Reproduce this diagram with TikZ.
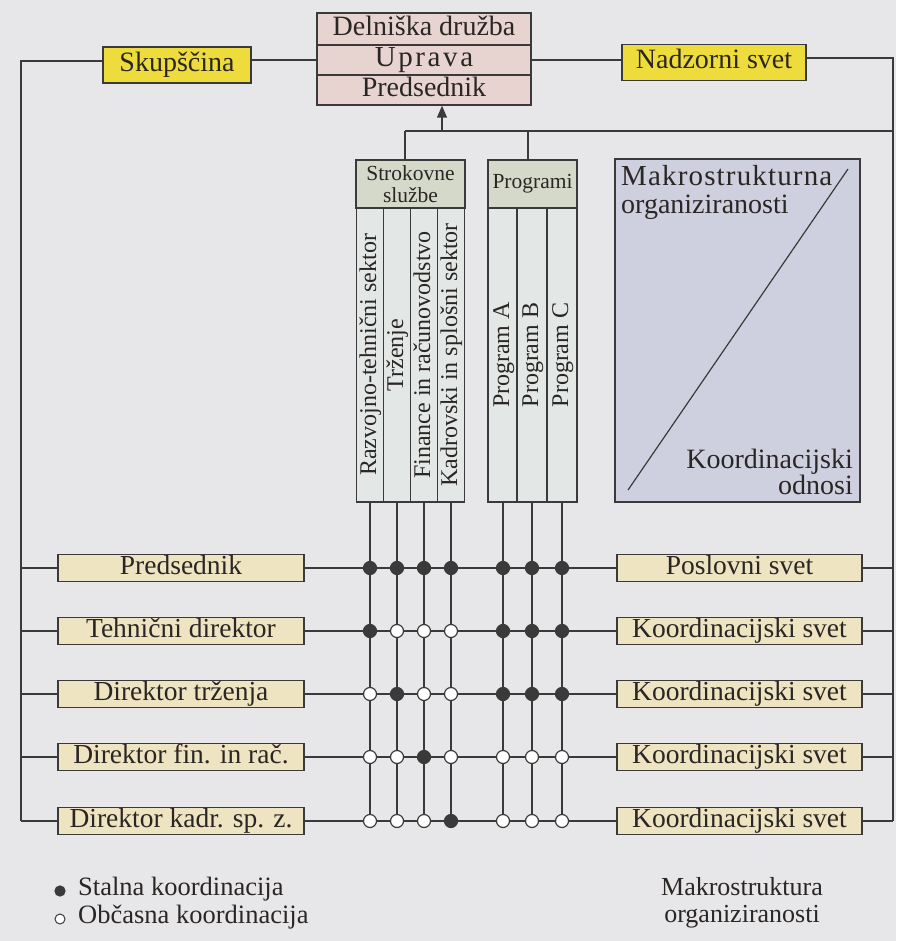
\documentclass[tikz,border=0pt]{standalone}
\usepackage{fontspec}
\setmainfont{Liberation Serif}
\usetikzlibrary{arrows.meta}

\definecolor{bg}{HTML}{E7E7E9}
\definecolor{ink}{HTML}{3A3A3A}
\definecolor{txt}{HTML}{2A2624}
\definecolor{pinkbox}{HTML}{E7D4D0}
\definecolor{yel}{HTML}{EEDC3C}
\definecolor{pale}{HTML}{EEE4C2}
\definecolor{hdr}{HTML}{D5D9CA}
\definecolor{colfill}{HTML}{E3E8E6}
\definecolor{macro}{HTML}{CFD0DF}

\tikzset{
  line/.style={draw=ink, line width=1.4pt},
  boxbase/.style={draw=ink, line width=1.4pt, inner sep=0pt, text=txt},
  topbox/.style={boxbase, fill=pinkbox, minimum width=214pt,
    font=\fontsize{28}{30}\selectfont, text height=19pt, text depth=6pt},
  ybox/.style={boxbase, fill=yel, minimum height=36pt,
    font=\fontsize{28}{30}\selectfont, text height=19pt, text depth=6pt},
  pbox/.style={boxbase, fill=pale, minimum height=27pt,
    font=\fontsize{27.5}{30}\selectfont, text height=19pt, text depth=6pt},
  lbox/.style={pbox, minimum width=246pt},
  rbox/.style={pbox, minimum width=245pt},
  hdrbox/.style={boxbase, fill=hdr, minimum height=48pt, align=center,
    font=\fontsize{21.5}{21}\selectfont},
  colbox/.style={boxbase, fill=colfill, rotate=90, minimum width=294pt,
    font=\fontsize{24}{26}\selectfont, text height=17pt, text depth=5pt},
  fdot/.style={circle, fill=ink, draw=ink, line width=1.2pt, minimum size=13pt, inner sep=0pt},
  odot/.style={circle, fill=white, draw=ink, line width=1.2pt, minimum size=13pt, inner sep=0pt},
  plain/.style={inner sep=0pt, text=txt},
}

\begin{document}
\begin{tikzpicture}[x=1pt, y=-1pt]
  % page and background
  \fill[bg] (0,0) rectangle (896,941);
  \useasboundingbox (0,0) rectangle (896,941);

  % company head: three stacked rows
  \node[topbox, minimum height=32pt] (top1) at (424,29) {Delniška družba};
  \node[topbox, minimum height=30pt] (top2) at (424,60) {\fontsize{29}{30}\selectfont\addfontfeature{LetterSpace=9}Uprava};
  \node[topbox, minimum height=30pt] (top3) at (424,90) {Predsednik};

  % assembly and supervisory board
  \node[ybox, minimum width=148pt] (skup) at (177,65) {Skupščina};
  \node[ybox, minimum width=184pt] (nadz) at (714,62.5) {Nadzorni svet};

  % frame lines
  \coordinate (lt) at (21,61);
  \coordinate (lb) at (21,821);
  \coordinate (rt) at (893,58);
  \coordinate (rb) at (893,821);
  \coordinate (busL) at (405,131);
  \coordinate (busA) at (442,131);
  \coordinate (busP) at (528,131);
  \coordinate (busR) at (893,131);

  \draw[line] (top2.west) -- (top2.west -| skup.east);
  \draw[line] (lt -| skup.west) -- (lt) -- (lb);
  \draw[line] (top2.east) -- (top2.east -| nadz.west);
  \draw[line] (rt -| nadz.east) -- (rt) -- (rb);
  \draw[line] (busL) -- (busR);
  \draw[line, -{Triangle[length=12pt, width=10pt]}] (busA) -- (busA |- top3.south);

  % professional services
  \node[hdrbox, minimum width=109pt] (strok) at (410.5,184) {Strokovne\\[1pt]službe};
  \node[colbox, minimum height=27.25pt] (c1) at (370,355) {Razvojno-tehnični sektor};
  \node[colbox, minimum height=27pt] (c2) at (397,355) {Trženje};
  \node[colbox, minimum height=27pt] (c3) at (424,355) {Finance in računovodstvo};
  \node[colbox, minimum height=27.5pt] (c4) at (451,355) {Kadrovski in splošni sektor};

  % programmes
  \node[hdrbox, minimum width=89pt] (prog) at (532.5,184) {Programi};
  \node[colbox, minimum height=29.67pt] (c5) at (503,355) {Program A};
  \node[colbox, minimum height=29.67pt] (c6) at (532,355) {Program B};
  \node[colbox, minimum height=29.67pt] (c7) at (562,355) {Program C};

  \draw[line] (busL) -- (busL |- strok.north);
  \draw[line] (busP) -- (busP |- prog.north);

  % macro-structure panel
  \node[boxbase, fill=macro, minimum width=245pt, minimum height=343pt] (macro) at (737.5,330.5) {};
  \coordinate (diagA) at (628,490);
  \coordinate (diagB) at (848,169);
  \draw[ink, line width=1.2pt] (diagA) -- (diagB);
  \node[plain, anchor=base west, font=\fontsize{29}{30}\selectfont] (mk1) at (621,186) {\addfontfeature{LetterSpace=4}Makrostrukturna};
  \node[plain, anchor=base west, font=\fontsize{28}{30}\selectfont] (mk2) at (621,214) {organiziranosti};
  \node[plain, anchor=base east, font=\fontsize{28}{30}\selectfont] (mk3) at (853,468) {Koordinacijski};
  \node[plain, anchor=base east, font=\fontsize{28}{30}\selectfont] (mk4) at (853,494) {odnosi};

  % managers (left) and councils (right)
  \node[lbox] (l1) at (181,568) {Predsednik};
  \node[lbox] (l2) at (181,631) {Tehnični direktor};
  \node[lbox] (l3) at (181,694) {Direktor trženja};
  \node[lbox] (l4) at (181,757) {Direktor fin. in rač.};
  \node[lbox] (l5) at (181,821) {Direktor kadr. sp. z.};

  \node[rbox] (r1) at (739.5,568) {Poslovni svet};
  \node[rbox] (r2) at (739.5,631) {Koordinacijski svet};
  \node[rbox] (r3) at (739.5,694) {Koordinacijski svet};
  \node[rbox] (r4) at (739.5,757) {Koordinacijski svet};
  \node[rbox] (r5) at (739.5,821) {Koordinacijski svet};

  \foreach \i in {1,...,5} {
    \draw[line] (lb |- l\i.west) -- (l\i.west);
    \draw[line] (l\i.east) -- (r\i.west);
    \draw[line] (r\i.east) -- (rb |- r\i.east);
  }

  % column drop lines
  \foreach \c in {1,...,7} {
    \draw[line] (c\c.west) -- (c\c.west |- l5.east);
  }

  % coordination matrix: 1 = permanent, 0 = occasional
  \foreach \row/\pat in {1/{1,1,1,1,1,1,1}, 2/{1,0,0,0,1,1,1}, 3/{0,1,0,0,1,1,1},
                         4/{0,0,1,0,0,0,0}, 5/{0,0,0,1,0,0,0}} {
    \foreach \v [count=\c] in \pat {
      \ifnum\v=1
        \node[fdot] (d\row\c) at (c\c.west |- l\row.east) {};
      \else
        \node[odot] (d\row\c) at (c\c.west |- l\row.east) {};
      \fi
    }
  }

  % legend
  \node[fdot, minimum size=10pt] (lg1) at (60,891) {};
  \node[odot, minimum size=10pt, line width=1pt] (lg2) at (60,919) {};
  \node[plain, anchor=west, font=\fontsize{26.5}{28}\selectfont] (lgt1) at (78,889) {Stalna koordinacija};
  \node[plain, anchor=west, font=\fontsize{26.5}{28}\selectfont] (lgt2) at (78,917) {Občasna koordinacija};
  \node[plain, align=center, font=\fontsize{26}{27}\selectfont] (cap) at (742,903) {Makrostruktura\\organiziranosti};
\end{tikzpicture}
\end{document}
